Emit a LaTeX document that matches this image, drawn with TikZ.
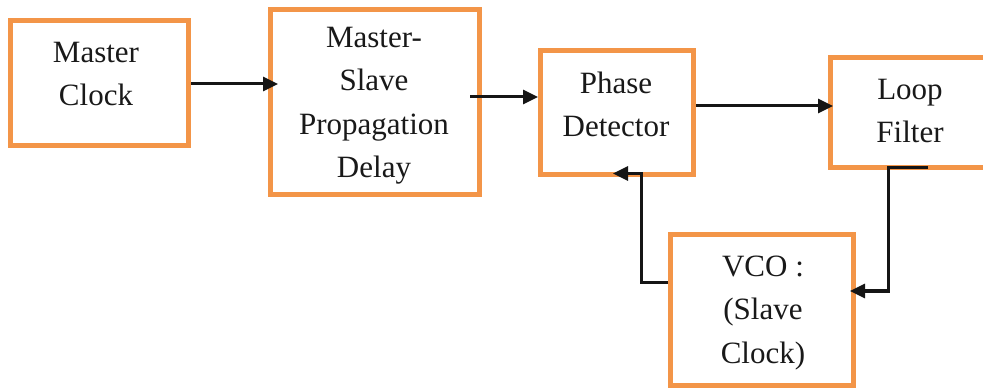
\documentclass[tikz,border=0pt]{standalone}
\usepackage{fontspec}
\setmainfont{Liberation Serif}
\usetikzlibrary{arrows.meta}
\definecolor{boxorange}{HTML}{F39548}
\definecolor{wireink}{HTML}{151515}
\begin{document}
\begin{tikzpicture}[x=1pt,y=-1pt,
  block/.style={draw=boxorange, line width=5pt, rectangle, inner sep=0pt, fill=white},
  btext/.style={font=\fontsize{31}{43.5}\selectfont, align=center, anchor=base, inner sep=0pt, text=black!90},
  arr/.style={draw=wireink, line width=3pt, -{Triangle[length=15pt,width=14pt]}}]
\useasboundingbox (0,0) rectangle (983,390);
\clip (0,0) rectangle (983,390);

% blocks (sizes measured on the border centre line)
\node[block, minimum width=178pt, minimum height=125pt] (mclk) at (99.5,83) {};
\node[block, minimum width=209pt, minimum height=185pt] (msd)  at (375,102) {};
\node[block, minimum width=153pt, minimum height=124pt] (pd)   at (617,112.5) {};
\node[block, minimum width=179pt, minimum height=110pt] (lf)   at (920,112.5) {};
\node[block, minimum width=183pt, minimum height=151pt] (vco)  at (762,310) {};

% block captions (placed by the baseline of their last line)
\node[btext] (mclkT) at (96,106)  {Master\\Clock};
\node[btext] (msdT)  at (374,178) {Master-\\Slave\\Propagation\\Delay};
\node[btext] (pdT)   at (616,137) {Phase\\Detector};
\node[btext] (lfT)   at (910,143) {Loop\\Filter};
\node[btext] (vcoT)  at (763,363) {VCO :\\(Slave\\Clock)};

% forward path
\draw[arr, shorten >=-10pt] ([yshift=-1pt]mclk.east) -- ([yshift=-1pt]mclk.east -| msd.west);
\draw[arr, shorten <=-12pt] ([yshift=5pt]msd.east) -- ([yshift=5pt]msd.east -| pd.west);
\draw[arr, shorten >=-5pt] ([yshift=6.5pt]pd.east) -- ([yshift=6.5pt]pd.east -| lf.west);

% feedback loop
\coordinate (lfout) at (928,168);
\draw[arr] (lfout) -- ++(-40,0) |- ([xshift=-6pt,yshift=19pt]vco.east);
\draw[arr] ([yshift=27pt]vco.west) -- ++(-27,0) |- ([xshift=-4pt,yshift=3.5pt]pd.south);
\end{tikzpicture}
\end{document}
